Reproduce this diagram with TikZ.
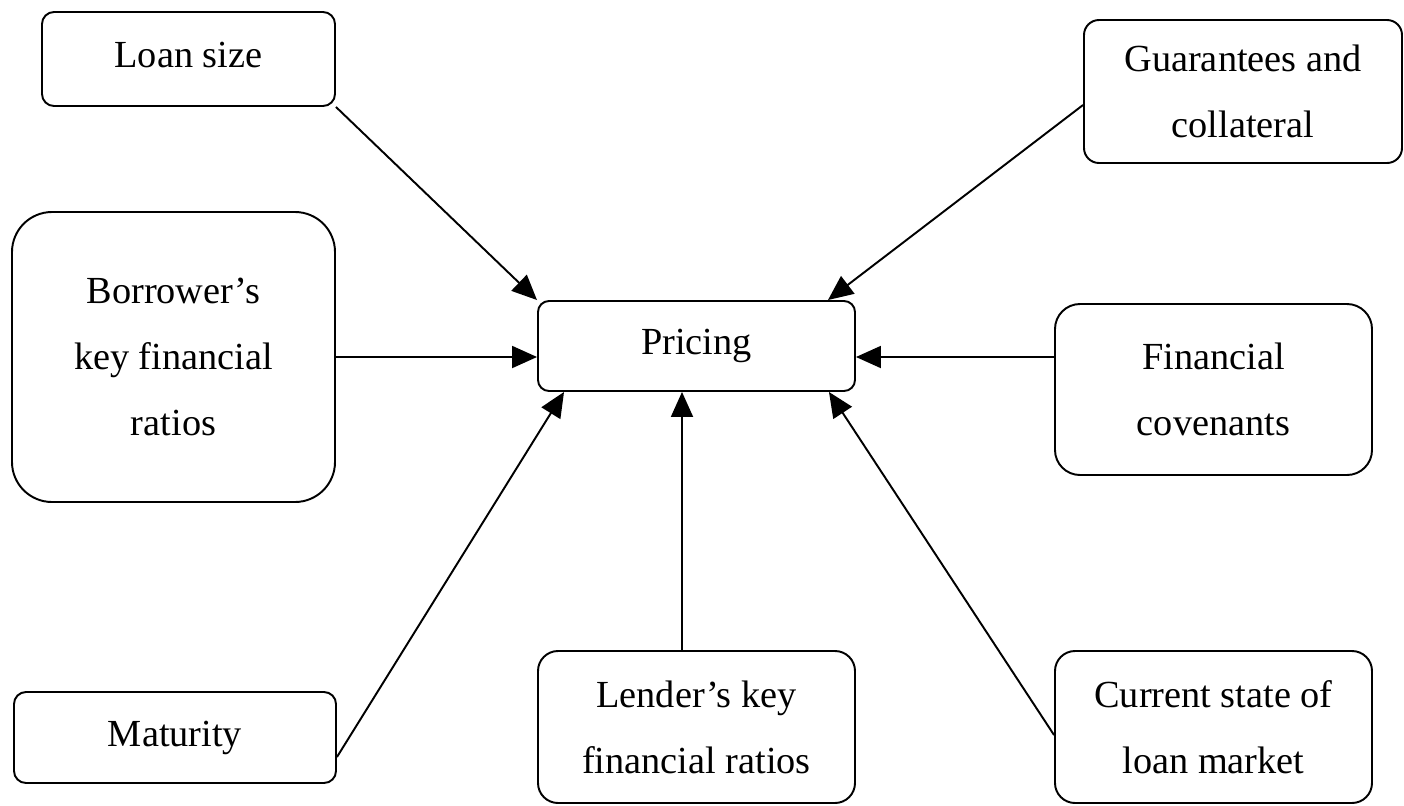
\documentclass[tikz,border=0pt]{standalone}
\usepackage{fontspec}
\setmainfont{Liberation Serif}
\usetikzlibrary{arrows.meta}

\begin{document}
\begin{tikzpicture}[>={Triangle[length=0.5cm,width=0.44cm]},
  every node/.style={font=\fontsize{21.8}{37.6}\selectfont},
  factor/.style={draw,line width=1.1pt,align=center,inner sep=0pt},
  link/.style={line width=1.1pt,->}]
  \useasboundingbox (0,0) rectangle (28.08,-16.1);

  % the factors round the price
  \node[factor,rounded corners=0.24cm,minimum width=5.86cm,minimum height=1.88cm] (loan) at (3.77,-1.18) {\raisebox{0.16cm}{Loan size}};
  \node[factor,rounded corners=0.3cm,minimum width=6.36cm,minimum height=2.86cm] (guar) at (24.86,-1.83) {Guarantees and\\collateral};
  \node[factor,rounded corners=0.8cm,minimum width=6.46cm,minimum height=5.8cm] (borr) at (3.47,-7.14) {Borrower's\\key financial\\ratios};
  \node[factor,rounded corners=0.22cm,minimum width=6.34cm,minimum height=1.8cm] (pric) at (13.93,-6.92) {Pricing};
  \node[factor,rounded corners=0.5cm,minimum width=6.34cm,minimum height=3.42cm] (cov) at (24.27,-7.79) {Financial\\covenants};
  \node[factor,rounded corners=0.24cm,minimum width=6.44cm,minimum height=1.82cm] (mat) at (3.5,-14.75) {Maturity};
  \node[factor,rounded corners=0.4cm,minimum width=6.34cm,minimum height=3.04cm] (lend) at (13.93,-14.54) {Lender's key\\financial ratios};
  \node[factor,rounded corners=0.4cm,minimum width=6.34cm,minimum height=3.04cm] (curr) at (24.27,-14.54) {Current state of\\loan market};

  % ends of the arrows
  \coordinate (gs) at ([yshift=-0.27cm]guar.west);
  \coordinate (ge) at ([xshift=-0.56cm]pric.north east);
  \coordinate (bs) at (borr.east);
  \coordinate (be) at (pric.west |- borr.east);
  \coordinate (vs) at (cov.west |- borr.east);
  \coordinate (ve) at (pric.east |- borr.east);
  \coordinate (ms) at ([yshift=-0.39cm]mat.east);
  \coordinate (me) at ([xshift=0.54cm]pric.south west);
  \coordinate (ls) at ([xshift=-0.29cm]lend.north);
  \coordinate (le) at ([xshift=-0.29cm]pric.south);
  \coordinate (cs) at ([yshift=-0.16cm]curr.west);
  \coordinate (ce) at ([xshift=-0.54cm]pric.south east);

  \foreach \s/\t in {loan.south east/pric.north west,gs/ge,bs/be,vs/ve,ms/me,ls/le,cs/ce}
    \draw[link] (\s) -- (\t);
\end{tikzpicture}
\end{document}
